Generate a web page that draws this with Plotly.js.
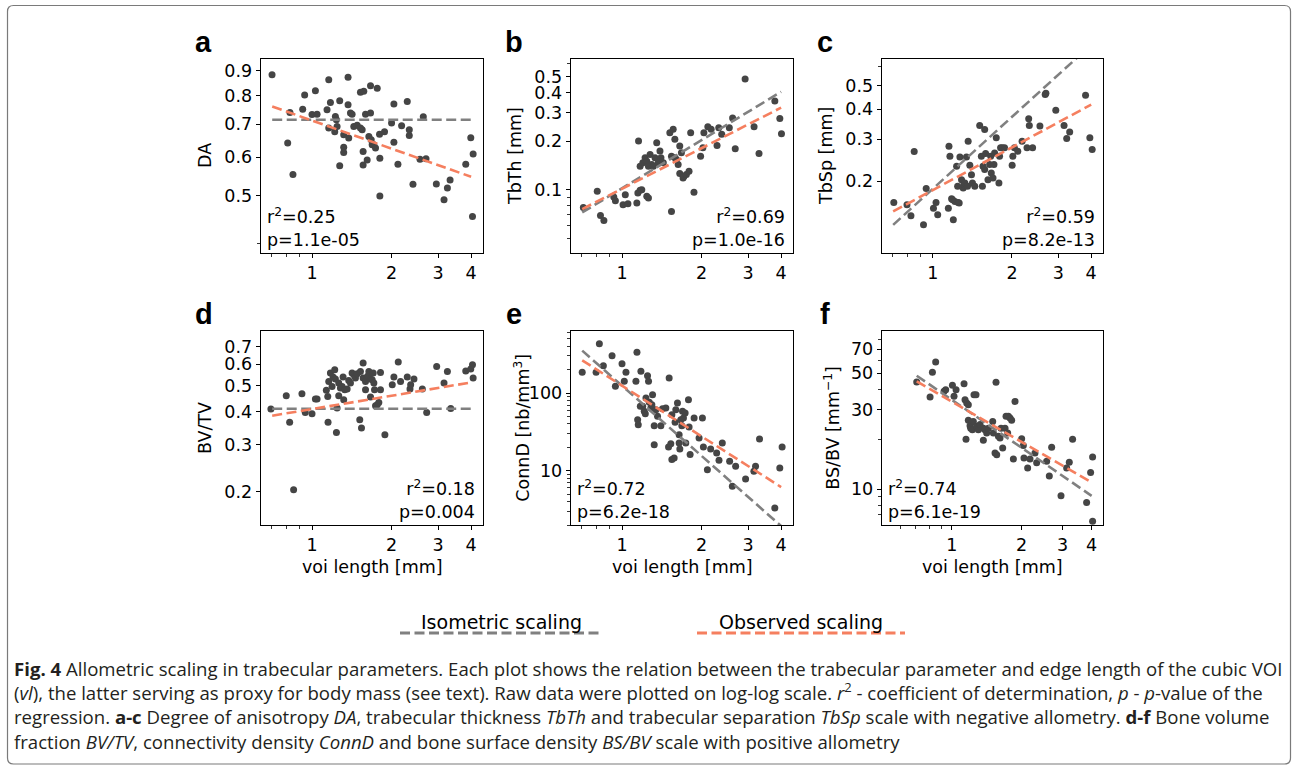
<!DOCTYPE html>
<html><head><meta charset="utf-8">
<script src="https://cdn.plot.ly/plotly-3.0.1.min.js"></script>
<style>html,body{margin:0;padding:0;background:#fff;}#chart{width:1294px;height:767px;}</style>
</head><body><div id="chart"></div>
<script>
// ---------- data ----------
const fitX = [0.707, 4.0];

const voiA = [0.706,0.809,0.825,0.847,0.922,0.938,1.0,1.030,1.045,1.140,1.157,1.174,1.157,1.226,1.237,1.244,1.219,1.273,1.273,1.318,1.318,1.318,1.369,1.369,1.398,1.418,1.377,1.439,1.482,1.525,1.570,1.548,1.525,1.561,1.561,1.617,1.594,1.641,1.665,1.665,1.675,1.689,1.714,1.739,1.765,1.801,1.806,1.806,1.881,2.0,2.041,2.041,2.114,2.183,2.293,2.334,2.334,2.41,2.562,2.70,2.637,2.954,3.159,3.253,3.330,3.817,3.988,4.071,4.048];
const daA = [0.883,0.641,0.740,0.553,0.751,0.803,0.733,0.819,0.734,0.749,0.863,0.775,0.688,0.726,0.715,0.693,0.676,0.782,0.576,0.666,0.628,0.613,0.873,0.767,0.738,0.734,0.656,0.693,0.697,0.813,0.817,0.682,0.688,0.616,0.578,0.592,0.734,0.661,0.738,0.839,0.651,0.636,0.636,0.626,0.829,0.668,0.597,0.500,0.676,0.704,0.770,0.643,0.580,0.695,0.779,0.682,0.664,0.528,0.594,0.595,0.725,0.529,0.491,0.519,0.539,0.580,0.657,0.609,0.454];
const isoA = [0.715, 0.715];
const obsA = [0.761, 0.547];

const voiB = [0.714,0.806,0.829,0.854,0.931,0.944,1.009,1.029,1.053,1.138,1.148,1.155,1.171,1.171,1.188,1.241,1.259,1.199,1.223,1.241,1.259,1.277,1.296,1.314,1.333,1.353,1.372,1.392,1.404,1.433,1.517,1.539,1.562,1.585,1.539,1.585,1.607,1.631,1.654,1.654,1.678,1.702,1.717,1.752,1.793,1.819,1.872,1.983,2.023,2.041,2.112,2.174,2.289,2.323,2.384,2.547,2.621,2.682,2.923,3.160,3.299,3.787,3.955,4.012];
const tbthB = [0.0776,0.0976,0.0692,0.0644,0.0900,0.0854,0.0806,0.0931,0.0818,0.0826,0.0953,0.1999,0.1397,0.0990,0.1000,0.0909,0.0887,0.1465,0.1574,0.1501,0.1397,0.1651,0.1430,0.1397,0.1574,0.1952,0.1465,0.1732,0.1574,0.1465,0.2253,0.0733,0.2362,0.2048,0.1612,0.1574,0.1537,0.1430,0.1860,0.1257,0.1690,0.1182,0.1210,0.1240,0.1300,0.2253,0.0962,0.1612,0.1816,0.2253,0.2455,0.2362,0.1878,0.2419,0.2200,0.2419,0.2779,0.1791,0.4835,0.2455,0.1675,0.3544,0.2753,0.2221];
const isoB = [0.0722, 0.4034];
const obsB = [0.0758, 0.322];

const voiC = [0.711,0.798,0.826,0.850,0.922,0.944,1.006,1.029,1.044,1.146,1.152,1.162,1.179,1.197,1.190,1.214,1.232,1.243,1.249,1.260,1.268,1.286,1.305,1.312,1.324,1.343,1.355,1.363,1.383,1.403,1.415,1.444,1.508,1.530,1.544,1.552,1.575,1.575,1.588,1.621,1.645,1.660,1.669,1.694,1.708,1.718,1.743,1.784,1.794,1.810,1.837,1.874,2.003,2.015,2.044,2.104,2.185,2.281,2.315,2.328,2.396,2.554,2.675,2.691,2.935,3.155,3.229,3.314,3.808,3.954,4.035];
const tbspC = [0.1633,0.1597,0.1437,0.2662,0.1317,0.1869,0.1546,0.1633,0.1450,0.1546,0.2803,0.2544,0.1693,0.1382,0.1676,0.1649,0.2311,0.1906,0.1633,0.1623,0.2529,0.2032,0.1875,0.1937,0.1968,0.2529,0.1906,0.2941,0.2334,0.2133,0.1968,0.1906,0.3421,0.2544,0.1906,0.2311,0.3292,0.2239,0.2611,0.2032,0.2349,0.2544,0.2168,0.2065,0.2349,0.2628,0.3038,0.1968,0.2544,0.2758,0.2758,0.2758,0.2334,0.2544,0.2758,0.2671,0.2941,0.2758,0.3649,0.3421,0.2758,0.3399,0.4599,0.4659,0.3955,0.3421,0.3018,0.3208,0.4569,0.3038,0.2714];
const isoC = [0.1317, 0.741];
const obsC = [0.1498, 0.4176];

const voiD = [0.699,0.799,0.823,0.852,0.916,0.943,1.0,1.030,1.045,1.133,1.147,1.150,1.157,1.174,1.191,1.201,1.219,1.226,1.237,1.244,1.262,1.262,1.281,1.300,1.311,1.318,1.330,1.358,1.377,1.398,1.418,1.439,1.460,1.482,1.516,1.525,1.539,1.561,1.561,1.594,1.594,1.617,1.631,1.641,1.665,1.665,1.689,1.704,1.714,1.724,1.739,1.765,1.790,1.816,1.816,1.887,2.012,2.041,2.120,2.163,2.293,2.348,2.362,2.431,2.615,2.716,2.963,3.159,3.253,3.349,3.817,3.988,4.048,4.071];
const bvtvD = [0.4083,0.4579,0.3641,0.2041,0.4659,0.3967,0.3922,0.4450,0.4450,0.4795,0.4553,0.3641,0.5179,0.5565,0.4961,0.5377,0.5726,0.5284,0.3340,0.4118,0.5105,0.4579,0.4891,0.4961,0.5377,0.4424,0.4822,0.4849,0.5224,0.5105,0.5565,0.5486,0.5330,0.5534,0.3725,0.5645,0.3467,0.6065,0.5330,0.4822,0.5179,0.5377,0.5439,0.5645,0.4527,0.5284,0.5254,0.5565,0.5105,0.4822,0.4201,0.4237,0.4324,0.5597,0.4822,0.3274,0.5033,0.5377,0.6117,0.5179,0.5377,0.4849,0.5033,0.5284,0.4849,0.3967,0.5893,0.5105,0.5645,0.4106,0.5662,0.5759,0.5978,0.5330];
const isoD = [0.4094, 0.4094];
const obsD = [0.3855, 0.5134];

const voiE = [0.707,0.798,0.821,0.850,0.917,0.944,1.0,1.020,1.035,1.129,1.139,1.146,1.152,1.173,1.179,1.197,1.214,1.225,1.232,1.249,1.260,1.268,1.286,1.297,1.305,1.324,1.324,1.343,1.363,1.403,1.423,1.465,1.500,1.508,1.530,1.544,1.544,1.575,1.588,1.598,1.621,1.645,1.645,1.655,1.669,1.684,1.694,1.708,1.733,1.743,1.784,1.794,1.810,1.874,1.957,2.015,2.032,2.104,2.165,2.281,2.328,2.396,2.554,2.615,2.691,2.935,3.155,3.201,3.314,3.786,3.954,4.035];
const connE = [184.6,184.6,431.7,224.8,302.5,121.9,238.6,141.3,184.6,141.3,333.9,45.4,39.1,67.3,190.1,67.3,58.1,54.2,86.2,167.2,141.3,75.8,64.1,70.8,95.2,38.0,21.6,61.0,50.1,38.0,62.8,64.1,20.2,156.1,22.3,52.6,13.9,14.6,41.9,61.0,74.3,29.1,22.7,19.0,45.4,38.0,58.1,47.7,55.3,22.7,82.1,36.5,16.1,47.7,26.3,47.7,20.2,10.3,19.0,16.9,13.6,22.7,13.2,6.3,11.4,7.8,9.8,11.4,25.6,3.3,10.8,20.2];
const isoE = [351, 1.94];
const obsE = [263.4, 6.16];

const voiF = [0.707,0.807,0.826,0.853,0.927,0.942,1.007,1.023,1.044,1.130,1.141,1.160,1.179,1.152,1.179,1.199,1.207,1.219,1.227,1.239,1.247,1.272,1.281,1.302,1.324,1.368,1.368,1.391,1.414,1.438,1.501,1.511,1.536,1.551,1.562,1.588,1.614,1.630,1.657,1.696,1.713,1.741,1.753,1.782,1.811,1.842,1.872,2.0,2.033,2.046,2.122,2.172,2.282,2.320,2.562,2.630,2.692,2.953,3.123,3.206,3.313,3.806,3.960,4.039,4.039];
const bsbvF = [44.3,35.9,50.6,58.4,38.9,39.8,42.3,36.3,39.8,43.2,34.6,33.0,32.3,20.0,26.0,24.1,23.3,25.3,22.8,25.6,37.1,37.1,23.9,22.8,24.5,23.3,19.7,22.8,21.8,23.3,25.6,21.8,16.5,44.1,16.1,20.8,20.3,23.3,17.7,23.3,27.5,21.8,27.5,26.8,26.0,15.2,33.8,20.1,18.3,15.4,13.4,15.2,16.5,14.4,14.7,12.0,17.9,9.1,13.4,14.5,20.0,8.3,12.6,15.6,6.4];
const isoF = [48.3, 9.1];
const obsF = [44.7, 10.97];

const panelLetters = ["a","b","c","d","e","f"];
const yTitles = ["DA","TbTh [mm]","TbSp [mm]","BV/TV","ConnD [nb/mm<sup>3</sup>]","BS/BV [mm<sup>−1</sup>]"];
const xTitle = "voi length [mm]";
const statsText = ["r<sup>2</sup>=0.25<br>p=1.1e-05","r<sup>2</sup>=0.69<br>p=1.0e-16","r<sup>2</sup>=0.59<br>p=8.2e-13",
                   "r<sup>2</sup>=0.18<br>p=0.004","r<sup>2</sup>=0.72<br>p=6.2e-18","r<sup>2</sup>=0.74<br>p=6.1e-19"];
const xTickVals = [1,2,3,4];
const yTickVals = [[0.5,0.6,0.7,0.8,0.9],[0.1,0.2,0.3,0.4,0.5],[0.2,0.3,0.4,0.5],[0.2,0.3,0.4,0.5,0.6,0.7],[10,100],[10,30,50,70]];
const yMinorVals = [[0.4],[0.05,0.06,0.07,0.08,0.09,0.6],[0.6],[],[2,3,4,5,6,7,8,9,20,30,40,50,60,70,80,90,200,300,400,500,600],[7,8,9,20,40,60,80]];
const legendLabels = ["Isometric scaling","Observed scaling"];
const captionLines = [
 "<b>Fig. 4</b> Allometric scaling in trabecular parameters. Each plot shows the relation between the trabecular parameter and edge length of the cubic VOI",
 "(<i>vl</i>), the latter serving as proxy for body mass (see text). Raw data were plotted on log-log scale. <i>r</i><sup>2</sup> - coefficient of determination, <i>p</i> - <i>p</i>-value of the",
 "regression. <b>a-c</b> Degree of anisotropy <i>DA</i>, trabecular thickness <i>TbTh</i> and trabecular separation <i>TbSp</i> scale with negative allometry. <b>d-f</b> Bone volume",
 "fraction <i>BV/TV</i>, connectivity density <i>ConnD</i> and bone surface density <i>BS/BV</i> scale with positive allometry"
];

// ---------- layout geometry ----------
const W = 1294, H = 767;
const px = x => x / W, py = y => 1 - y / H;
const cols = [[261,483],[571,793],[882,1103]];
const rows = [[59,253],[331,525]];
const xRanges = [[-0.193,0.647],[-0.193,0.647],[-0.193,0.647],[-0.193,0.647],[-0.193,0.647],[-0.30,0.651]];
const yRanges = [[-0.4174,-0.0219],[-1.3925,-0.191],[-0.9977,-0.189],[-0.8223,-0.0974],[0.301,2.798],[0.783,1.9537]];
const xMinor = [[0.7,0.8,0.9],[0.7,0.8,0.9],[0.7,0.8,0.9],[0.7,0.8,0.9],[0.7,0.8,0.9],[0.5,0.6,0.7,0.8,0.9]];

const DOT = '#454545', GRAY = '#808080', ORANGE = '#f57f5f';
const FONT = 'DejaVu Sans, Verdana, sans-serif';

const panels = [
  {x: voiA, y: daA, iso: isoA, obs: obsA},
  {x: voiB, y: tbthB, iso: isoB, obs: obsB},
  {x: voiC, y: tbspC, iso: isoC, obs: obsC},
  {x: voiD, y: bvtvD, iso: isoD, obs: obsD},
  {x: voiE, y: connE, iso: isoE, obs: obsE},
  {x: voiF, y: bsbvF, iso: isoF, obs: obsF}
];

const traces = [];
const layout = {
  width: W, height: H, margin: {l:0,r:0,t:0,b:0},
  paper_bgcolor: '#fff', plot_bgcolor: '#fff', showlegend: false,
  font: {family: FONT, size: 17.5, color: '#000'},
  annotations: [], shapes: []
};

panels.forEach((p, i) => {
  const n = i + 1, xs = n === 1 ? 'x' : 'x' + n, ys = n === 1 ? 'y' : 'y' + n;
  const c = cols[i % 3], r = rows[Math.floor(i / 3)];
  traces.push({x: p.x, y: p.y, xaxis: xs, yaxis: ys, type: 'scatter', mode: 'markers',
               marker: {color: DOT, size: 7, line: {width: 0}}, hoverinfo: 'skip'});
  traces.push({x: fitX, y: p.iso, xaxis: xs, yaxis: ys, type: 'scatter', mode: 'lines',
               line: {color: GRAY, width: 2.6, dash: '10px,4.5px'}, hoverinfo: 'skip'});
  traces.push({x: fitX, y: p.obs, xaxis: xs, yaxis: ys, type: 'scatter', mode: 'lines',
               line: {color: ORANGE, width: 2.6, dash: '10px,4.5px'}, hoverinfo: 'skip'});
  const axCommon = {type: 'log', showgrid: false, zeroline: false, showline: true, mirror: true,
    linecolor: '#000', linewidth: 1.3, ticks: 'outside', ticklen: 4, tickwidth: 1, tickcolor: '#000',
    tickfont: {family: FONT, size: 17.5, color: '#000'}, tickmode: 'array', fixedrange: true};
  layout[n === 1 ? 'xaxis' : 'xaxis' + n] = Object.assign({}, axCommon, {
    domain: [px(c[0]), px(c[1])], anchor: ys, range: xRanges[i],
    tickvals: xTickVals, ticktext: xTickVals.map(String),
    minor: {tickmode: 'array', tickvals: xMinor[i], ticks: 'outside', ticklen: 2.5, tickwidth: 0.8, tickcolor: '#000'}
  });
  layout[n === 1 ? 'yaxis' : 'yaxis' + n] = Object.assign({}, axCommon, {
    domain: [py(r[1]), py(r[0])], anchor: xs, range: yRanges[i],
    tickvals: yTickVals[i], ticktext: yTickVals[i].map(String),
    minor: {tickmode: 'array', tickvals: yMinorVals[i], ticks: 'outside', ticklen: 2.5, tickwidth: 0.8, tickcolor: '#000'}
  });
  // stats text
  const left = (i === 0 || i === 4 || i === 5);
  layout.annotations.push({xref: xs + ' domain', yref: ys + ' domain', x: left ? 0.02 : 0.975, y: 0.005,
    xanchor: left ? 'left' : 'right', yanchor: 'bottom', align: left ? 'left' : 'right', showarrow: false,
    text: statsText[i], font: {family: FONT, size: 17.5, color: '#000'}});
  // panel letter
  layout.annotations.push({xref: 'paper', yref: 'paper', x: px(c[0] - 57), y: py(r[0] - 17),
    xanchor: 'center', yanchor: 'middle', showarrow: false, text: '<b>' + panelLetters[i] + '</b>',
    font: {family: 'Liberation Sans, Arial, sans-serif', size: 29, color: '#000'}});
  // y title
  const yTitleX = [205, 515, 826, 205, 521.7, 831.7][i];
  layout.annotations.push({xref: 'paper', yref: 'paper', x: px(yTitleX), y: py((r[0] + r[1]) / 2),
    xanchor: 'center', yanchor: 'middle', textangle: -90, showarrow: false, text: yTitles[i],
    font: {family: FONT, size: 17.5, color: '#000'}});
  if (i >= 3) {
    layout.annotations.push({xref: 'paper', yref: 'paper', x: px((c[0] + c[1]) / 2), y: py(567),
      xanchor: 'center', yanchor: 'middle', showarrow: false, text: xTitle,
      font: {family: FONT, size: 17.5, color: '#000'}});
  }
});

// legend (text above dashed sample lines)
const legColors = [GRAY, ORANGE];
const legSpans = [[400,603],[697,905]];
legendLabels.forEach((lab, k) => {
  const s = legSpans[k];
  layout.annotations.push({xref: 'paper', yref: 'paper', x: px((s[0] + s[1]) / 2), y: py(622),
    xanchor: 'center', yanchor: 'middle', showarrow: false, text: lab,
    font: {family: FONT, size: 19, color: '#000'}});
  layout.shapes.push({type: 'line', xref: 'paper', yref: 'paper', x0: px(s[0]), x1: px(s[1]), y0: py(633), y1: py(633),
    line: {color: legColors[k], width: 3, dash: '10px,4.5px'}});
});

// caption (one multi-line text block)
layout.annotations.push({xref: 'paper', yref: 'paper', x: px(12), y: py(705),
  xanchor: 'left', yanchor: 'middle', align: 'left', showarrow: false, text: captionLines.join('<br>'),
  font: {family: 'Open Sans, Noto Sans, sans-serif', size: 18.6, color: '#231f20'}});

// outer rounded frame
(function(){
  const L = 7.5, R = 1290.5, T = 5.5, B = 764, rad = 6;
  const P = (x, y) => px(x).toFixed(5) + ',' + py(y).toFixed(5);
  const path = 'M' + P(L + rad, T) + ' L' + P(R - rad, T) + ' Q' + P(R, T) + ' ' + P(R, T + rad) +
    ' L' + P(R, B - rad) + ' Q' + P(R, B) + ' ' + P(R - rad, B) + ' L' + P(L + rad, B) +
    ' Q' + P(L, B) + ' ' + P(L, B - rad) + ' L' + P(L, T + rad) + ' Q' + P(L, T) + ' ' + P(L + rad, T) + ' Z';
  layout.shapes.push({type: 'path', xref: 'paper', yref: 'paper', path: path, line: {color: '#7a7a7a', width: 1.2}, layer: 'below'});
})();

Plotly.newPlot('chart', traces, layout, {staticPlot: true, displayModeBar: false});
</script>
</body></html>
